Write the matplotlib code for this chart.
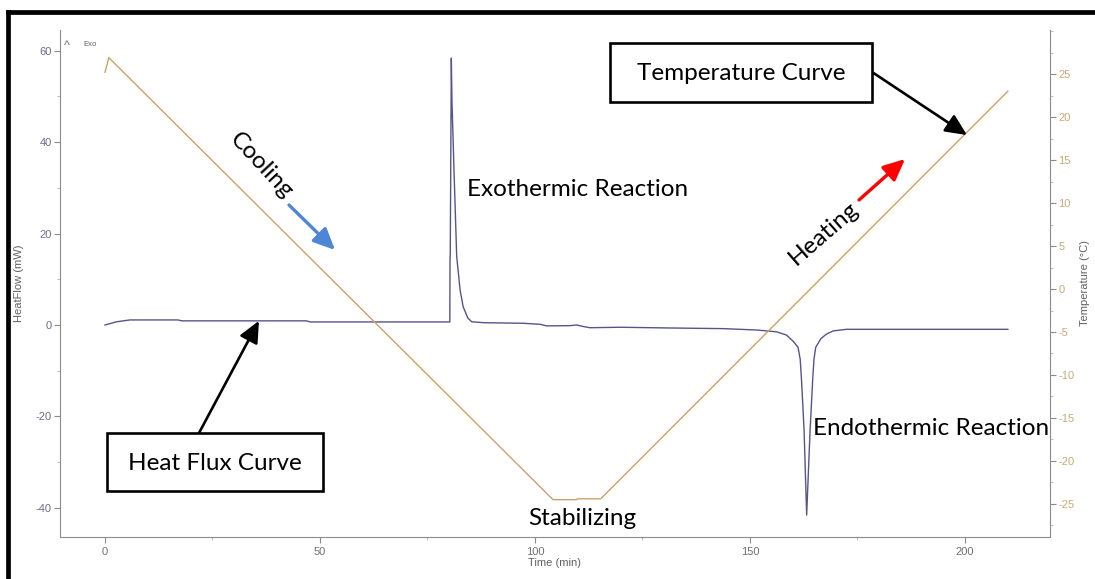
import matplotlib
matplotlib.use("Agg")
import matplotlib.pyplot as plt
from matplotlib.patches import Rectangle
from matplotlib.lines import Line2D
from matplotlib.ticker import MultipleLocator

# Heat flow signal (mW) against time (min)
hf_time = [0, 2.7, 5.8, 17, 17.8, 46.9, 47.7, 80.2, 80.25, 80.3, 80.55, 80.7,
           81.2, 81.8, 82.6, 83.3, 84.4, 85.3, 88, 97.3, 101.2, 102.7, 108.1,
           109.7, 111.3, 112.8, 119.8, 131.4, 143.8, 151.5, 156.2, 158.5, 160.1,
           161.2, 161.7, 162.0, 162.6, 163.2, 164.0, 164.6, 164.9, 165.3, 166.5,
           167.8, 169.4, 172.5, 210]
hf_value = [0, 0.7, 1.1, 1.1, 0.9, 0.9, 0.66, 0.66, 14.9, 15.0, 58.4, 49,
            33, 15, 7.6, 4.0, 1.5, 0.7, 0.5, 0.37, 0.15, -0.2, -0.15,
            0.0, -0.35, -0.6, -0.5, -0.66, -0.8, -1.1, -1.5, -2.2, -3.6,
            -4.9, -7.5, -12, -23, -41.6, -23, -12, -7.5, -4.9, -3.0,
            -2.0, -1.3, -0.95, -0.95]

# Sample temperature programme (°C) against time (min)
temp_time = [0, 0.9, 104.2, 109.6, 109.9, 115.3, 210]
temp_value = [25.2, 26.9, -24.5, -24.5, -24.4, -24.4, 23.0]

time_ticks = [0, 50, 100, 150, 200]
hf_ticks = [-40, -20, 0, 20, 40, 60]
temp_ticks = [-25, -20, -15, -10, -5, 0, 5, 10, 15, 20, 25]

W, H = 1095, 579
plt.rcParams['font.family'] = ['Liberation Sans', 'DejaVu Sans']
plt.rcParams['axes.unicode_minus'] = False

fig = plt.figure(figsize=(W / 100, H / 100), dpi=100)
fig.patch.set_facecolor('white')


def fx(x):
    return x / W


def fy(y):
    return 1 - y / H


AX_L, AX_R, AX_T, AX_B = 60, 1050, 30, 537
ax = fig.add_axes([fx(AX_L), fy(AX_B), (AX_R - AX_L) / W, (AX_B - AX_T) / H])
ax2 = ax.twinx()

HF_COLOR = '#55558a'
T_COLOR = '#c9a26b'
SPINE = '#8c8c8c'

ax.plot(hf_time, hf_value, color=HF_COLOR, lw=1.0, zorder=3)
ax2.plot(temp_time, temp_value, color=T_COLOR, lw=1.0, zorder=2)

ax.set_xlim(-10.47, 219.8)
ax.set_ylim(-46.4, 64.55)
ax2.set_ylim(-28.84, 30.12)

for s in ['top', 'right']:
    ax.spines[s].set_visible(False)
for s in ['top', 'left', 'bottom']:
    ax2.spines[s].set_visible(False)
for s in ['left', 'bottom']:
    ax.spines[s].set_color(SPINE)
ax2.spines['right'].set_color(SPINE)

ax.set_xticks(time_ticks)
ax.xaxis.set_minor_locator(MultipleLocator(25))
ax.set_yticks(hf_ticks)
ax.yaxis.set_minor_locator(MultipleLocator(10))
ax2.set_yticks(temp_ticks)
ax2.yaxis.set_minor_locator(MultipleLocator(2.5))

ax.tick_params(axis='x', which='major', direction='out', length=4, width=0.8,
               color=SPINE, labelsize=8, labelcolor='#707070', pad=3)
ax.tick_params(axis='x', which='minor', direction='out', length=2, width=0.8, color='#c0c0c0')
ax.tick_params(axis='y', which='major', direction='out', length=4, width=0.8,
               color=SPINE, labelsize=8, labelcolor='#6b6b8e', pad=2)
ax.tick_params(axis='y', which='minor', direction='out', length=2, width=0.8, color='#c0c0c0')
ax2.tick_params(axis='y', which='major', direction='out', length=4, width=0.8,
                color=SPINE, labelsize=8, labelcolor='#c8aa7a', pad=2)
ax2.tick_params(axis='y', which='minor', direction='out', length=2, width=0.8, color='#c0c0c0')

ax.set_xlabel('Time (min)', fontsize=8, color='#606060', labelpad=1)
ax.set_ylabel('HeatFlow (mW)', fontsize=8, color='#606060', labelpad=8)
ax2.set_ylabel('Temperature (°C)', fontsize=8, color='#606060', labelpad=4)

# Exo-up marker
fig.text(fx(64), fy(46), '^', fontsize=9, color='#707070', ha='left', va='center')
fig.text(fx(83), fy(44), 'Exo', fontsize=5.5, color='#606060', ha='left', va='center')

CAP = dict(family=['Lato', 'DejaVu Sans'], fontsize=17.5, color='black')

fig.text(fx(467), fy(196), 'Exothermic Reaction', ha='left', va='baseline', **CAP)
fig.text(fx(813), fy(435), 'Endothermic Reaction', ha='left', va='baseline', **CAP)
fig.text(fx(582), fy(525), 'Stabilizing', ha='center', va='baseline', **CAP)
fig.text(fx(261), fy(166), 'Cooling', ha='center', va='center', rotation=-47,
         rotation_mode='anchor', **CAP)
fig.text(fx(824), fy(233), 'Heating', ha='center', va='center', rotation=41,
         rotation_mode='anchor', **CAP)

# Callout boxes
for (x0, y0, x1, y1) in [(610, 43, 872, 102), (107, 433, 323, 491)]:
    fig.add_artist(Rectangle((fx(x0), fy(y1)), (x1 - x0) / W, (y1 - y0) / H,
                             transform=fig.transFigure, facecolor='white',
                             edgecolor='black', lw=1.9, zorder=5))
fig.text(fx(741), fy(80), 'Temperature Curve', ha='center', va='baseline', zorder=6, **CAP)
fig.text(fx(215), fy(470), 'Heat Flux Curve', ha='center', va='baseline', zorder=6, **CAP)

head = '-|>,head_length=0.65,head_width=0.3'
ax2.annotate('', xy=(200.5, 17.9), xycoords='data', xytext=(872, H - 72),
             textcoords='figure pixels', annotation_clip=False,
             arrowprops=dict(arrowstyle=head, color='black', lw=1.9,
                             shrinkA=0, shrinkB=0, mutation_scale=20))
ax.annotate('', xy=(35.8, 0.9), xycoords='data', xytext=(199, H - 433),
            textcoords='figure pixels', annotation_clip=False,
            arrowprops=dict(arrowstyle=head, color='black', lw=1.9,
                            shrinkA=0, shrinkB=0, mutation_scale=20))
ax.annotate('', xy=(335, H - 250), xycoords='figure pixels', xytext=(289, H - 205),
            textcoords='figure pixels', annotation_clip=False,
            arrowprops=dict(arrowstyle=head, color='#4f86d4', lw=2.4,
                            shrinkA=0, shrinkB=0, mutation_scale=20))
ax.annotate('', xy=(905, H - 159), xycoords='figure pixels', xytext=(859, H - 200),
            textcoords='figure pixels', annotation_clip=False,
            arrowprops=dict(arrowstyle=head, color='#ff0000', lw=2.4,
                            shrinkA=0, shrinkB=0, mutation_scale=20))

# Outer frame (left and top edges)
fig.add_artist(Line2D([fx(8), fx(8)], [fy(12), 0], transform=fig.transFigure,
                      color='black', lw=3.4, solid_capstyle='projecting'))
fig.add_artist(Line2D([fx(8), 1], [fy(12), fy(12)], transform=fig.transFigure,
                      color='black', lw=3.4, solid_capstyle='projecting'))

fig.savefig('out.png', dpi=100)
